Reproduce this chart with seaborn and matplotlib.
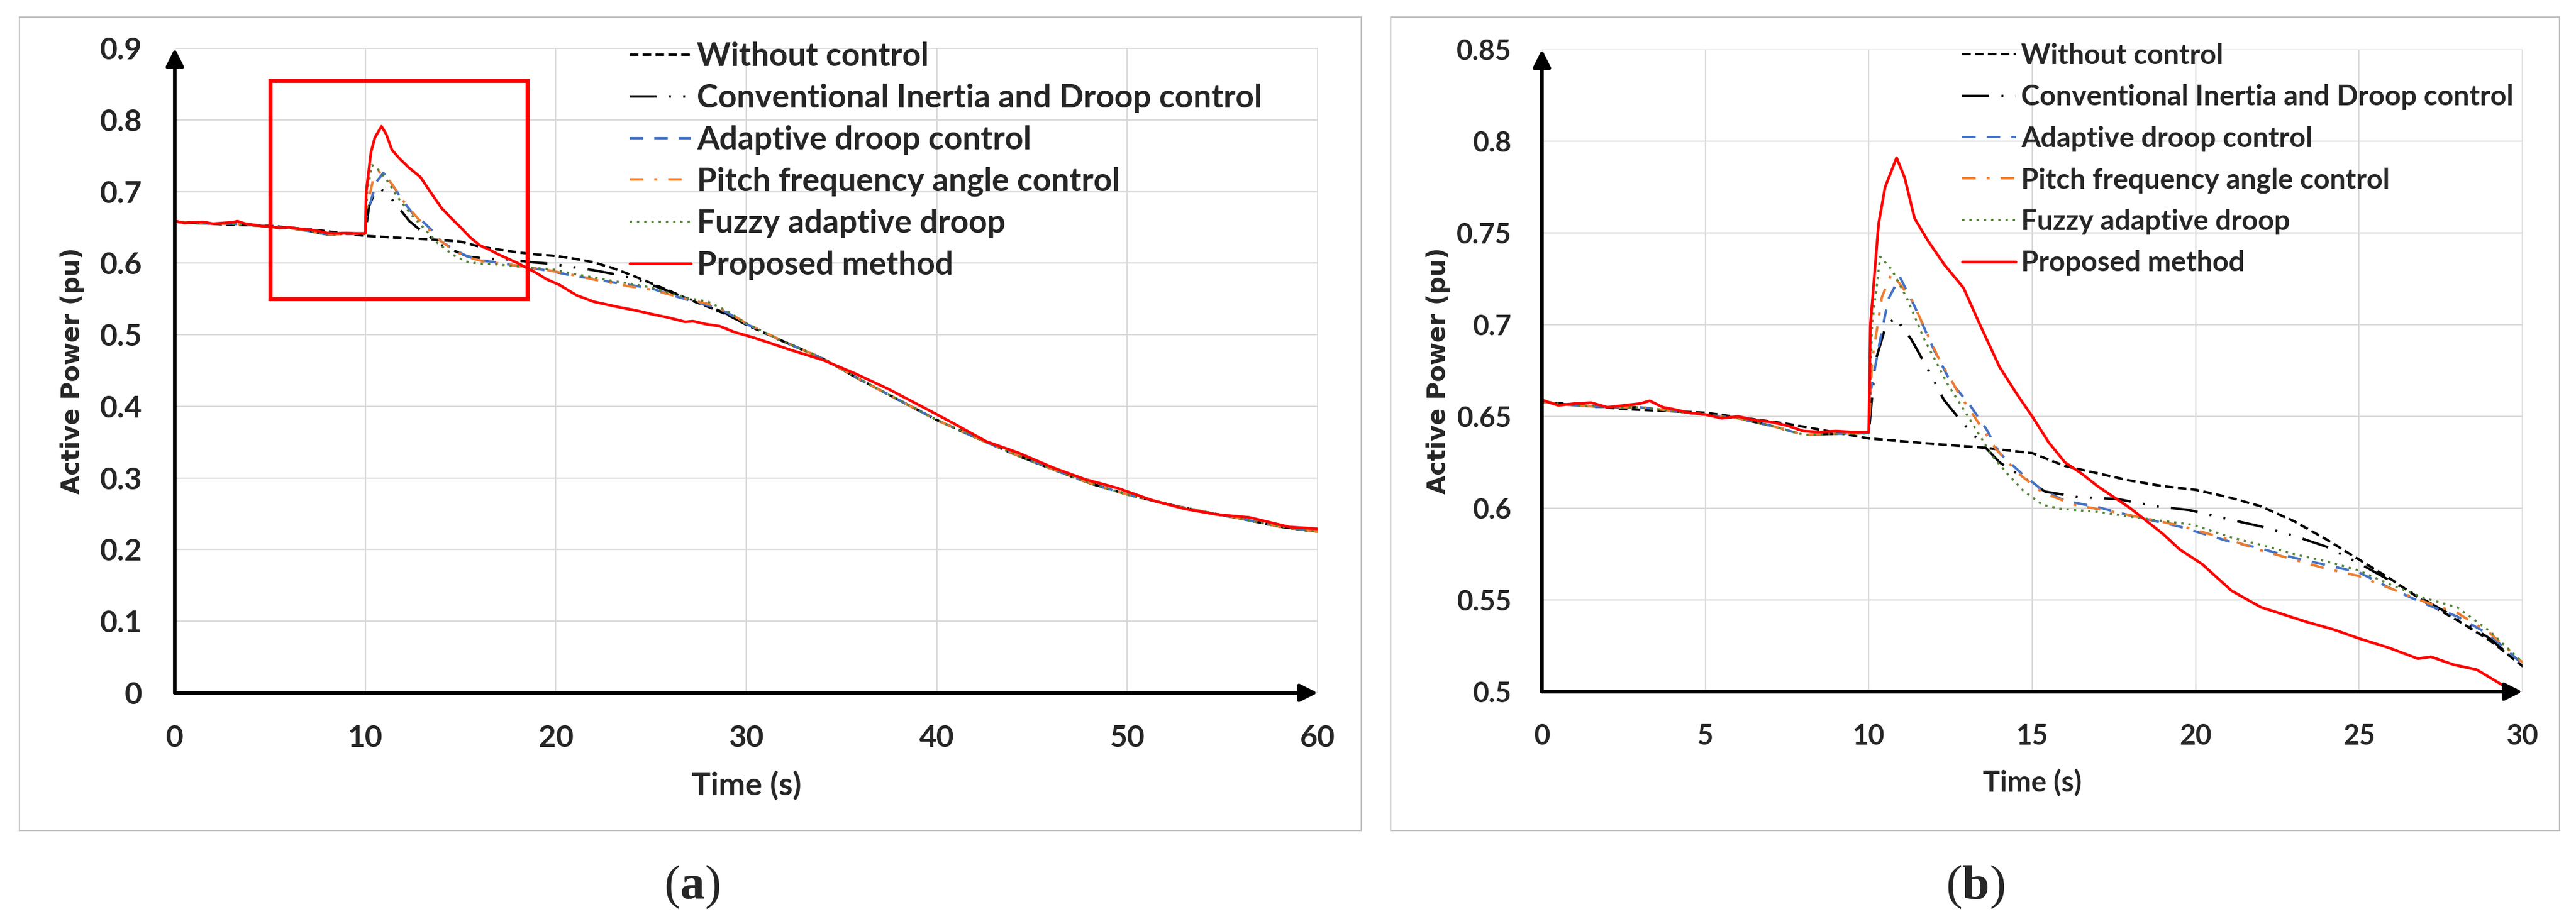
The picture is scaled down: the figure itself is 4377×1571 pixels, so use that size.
import matplotlib
matplotlib.use("Agg")
import matplotlib.pyplot as plt
from matplotlib.patches import Rectangle
from matplotlib.ticker import FuncFormatter, MultipleLocator
import pandas as pd
import seaborn as sns

# ---- data (time in s, active power in pu) ----
labels = ["Without control", "Conventional Inertia and Droop control",
          "Adaptive droop control", "Pitch frequency angle control",
          "Fuzzy adaptive droop", "Proposed method"]

# shared pre-disturbance part of the controlled curves
t_pre = [0, 1, 2, 3, 4, 5, 6, 7, 8, 9, 10]
p_pre = [0.658, 0.656, 0.655, 0.655, 0.653, 0.651, 0.649, 0.645, 0.640, 0.6405, 0.641]

# shared tail (all non-proposed curves overlap after 30 s)
t_tail = [32, 34, 36, 38, 40, 42, 44, 46, 48, 50, 52, 54, 56, 58, 60]
p_tail = [0.490, 0.467, 0.437, 0.409, 0.381, 0.357, 0.334, 0.313, 0.293, 0.277,
          0.264, 0.253, 0.243, 0.232, 0.225]

t_wo = [0, 2.5, 5, 7.5, 10, 12, 13.5, 15, 16, 17, 18, 19, 20, 21, 22, 23, 24, 25,
        26, 27, 28, 29, 30]
p_wo = [0.658, 0.654, 0.652, 0.646, 0.638, 0.635, 0.633, 0.630, 0.623, 0.619,
        0.615, 0.612, 0.610, 0.606, 0.601, 0.593, 0.583, 0.572, 0.561, 0.549,
        0.539, 0.528, 0.514]

t_conv = [10.2, 10.5, 10.8, 11.3, 11.8, 12.3, 12.8, 13.2, 14, 14.7, 15.4, 16.4,
          17.6, 18.8, 19.8, 21, 22, 23, 24, 25, 26, 27, 28, 29, 30]
p_conv = [0.680, 0.698, 0.704, 0.692, 0.676, 0.659, 0.648, 0.640, 0.625, 0.617,
          0.609, 0.606, 0.605, 0.601, 0.599, 0.594, 0.590, 0.585, 0.579, 0.570,
          0.560, 0.550, 0.540, 0.529, 0.514]

t_adap = [10.05, 10.35, 10.6, 10.95, 11.4, 12, 12.5, 13.1, 13.6, 14, 14.7, 15.3,
          16, 17, 18, 19.5, 21, 22, 23, 24, 25, 26, 27, 28, 29, 30]
p_adap = [0.663, 0.692, 0.714, 0.726, 0.710, 0.686, 0.669, 0.656, 0.643, 0.630,
          0.6185, 0.610, 0.604, 0.6006, 0.596, 0.590, 0.582, 0.578, 0.573, 0.569,
          0.565, 0.556, 0.548, 0.541, 0.531, 0.515]

t_pitch = [10.1, 10.4, 10.7, 11.3, 12.1, 12.75, 13.3, 13.9, 14.6, 15.3, 16.25,
           17.6, 19.5, 21, 22, 23, 24, 25, 26, 27, 28, 29, 30]
p_pitch = [0.680, 0.715, 0.728, 0.714, 0.683, 0.6626, 0.648, 0.632, 0.6186,
           0.6087, 0.602, 0.5976, 0.5906, 0.583, 0.577, 0.572, 0.567, 0.563,
           0.556, 0.549, 0.543, 0.532, 0.516]

t_fuzzy = [10.1, 10.35, 10.7, 11.15, 11.7, 12.4, 13.0, 13.45, 13.8, 14.25, 14.7,
           15.3, 15.85, 17, 18.15, 19.9, 21.1, 22, 23, 24, 25, 26, 27, 28, 29, 30]
p_fuzzy = [0.700, 0.737, 0.730, 0.715, 0.692, 0.668, 0.651, 0.638, 0.628, 0.6186,
           0.610, 0.602, 0.5997, 0.598, 0.595, 0.591, 0.584, 0.580, 0.575, 0.571,
           0.566, 0.558, 0.551, 0.546, 0.533, 0.516]

t_prop = [0, 0.5, 1, 1.5, 2, 2.5, 3, 3.3, 3.7, 4, 4.5, 5, 5.5, 6, 6.5, 7, 7.5, 8,
          8.5, 9, 9.5, 10, 10.05, 10.3, 10.5, 10.85, 11.1, 11.4, 11.8, 12.3, 12.9,
          13.4, 14, 14.5, 15, 15.5, 16, 16.5, 17, 17.5, 18, 18.5, 19, 19.5, 20.2,
          21.1, 22, 23.4, 24.2, 25, 25.9, 26.8, 27.2, 27.9, 28.6, 29.4, 30, 30.5,
          32.3, 34, 35.7, 37.4, 39.2, 40.9, 42.6, 44.3, 46.1, 47.8, 49.5, 51.3,
          53, 54.7, 56.4, 58.5, 60]
p_prop = [0.659, 0.656, 0.657, 0.6575, 0.655, 0.656, 0.657, 0.6585, 0.655, 0.654,
          0.652, 0.651, 0.649, 0.650, 0.648, 0.647, 0.645, 0.642, 0.6415, 0.642,
          0.6415, 0.6415, 0.700, 0.755, 0.775, 0.791, 0.780, 0.758, 0.746, 0.733,
          0.720, 0.700, 0.677, 0.663, 0.650, 0.636, 0.625, 0.619, 0.612, 0.606,
          0.600, 0.593, 0.586, 0.5777, 0.5695, 0.555, 0.546, 0.538, 0.534, 0.529,
          0.524, 0.518, 0.519, 0.5147, 0.512, 0.5035, 0.499, 0.495, 0.479, 0.465,
          0.446, 0.425, 0.400, 0.376, 0.351, 0.335, 0.3145, 0.298, 0.2858, 0.269,
          0.257, 0.249, 0.245, 0.2316, 0.229]

series = {
    labels[0]: (t_wo + t_tail, p_wo + p_tail),
    labels[1]: (t_pre + t_conv + t_tail, p_pre + p_conv + p_tail),
    labels[2]: (t_pre + t_adap + t_tail, p_pre + p_adap + p_tail),
    labels[3]: (t_pre + t_pitch + t_tail, p_pre + p_pitch + p_tail),
    labels[4]: (t_pre + t_fuzzy + t_tail, p_pre + p_fuzzy + p_tail),
    labels[5]: (t_prop, p_prop),
}

styles = {
    labels[0]: dict(color="black", lw=3.0, ls=(0, (3.5, 1.75))),
    labels[1]: dict(color="black", lw=3.0, ls=(0, (11, 5, 0.8, 5, 0.8, 5))),
    labels[2]: dict(color="#4472C4", lw=3.0, ls=(0, (5.5, 4.5))),
    labels[3]: dict(color="#ED7D31", lw=3.0, ls=(0, (5.5, 4.5, 1.2, 4.5))),
    labels[4]: dict(color="#548235", lw=2.6, ls=(0, (1.1, 2.3))),
    labels[5]: dict(color="#FF0000", lw=3.3, ls="-"),
}

sns.set_theme(style="white")
plt.rcParams["font.family"] = ["Lato", "DejaVu Sans"]
plt.rcParams["font.weight"] = "bold"
plt.rcParams["mathtext.fontset"] = "custom"
plt.rcParams["mathtext.rm"] = "Liberation Serif"
plt.rcParams["mathtext.bf"] = "Liberation Serif:bold"

W, H = 4377, 1571
fig = plt.figure(figsize=(W / 100, H / 100), dpi=100)
fig.patch.set_facecolor("white")


def px_axes(x0, x1, y0, y1):
    return fig.add_axes([x0 / W, 1 - y1 / H, (x1 - x0) / W, (y1 - y0) / H])


def draw_panel(ax, xmax, xstep, ymin, ymax, ystep, ypad, leg_x, hlen, lab_x,
               tick_fs, xlab_fs, leg_fs, leg_sp):
    for name, (t, p) in series.items():
        st = styles[name]
        df = pd.DataFrame({"t": t, "p": p})
        sns.lineplot(data=df, x="t", y="p", ax=ax, color=st["color"],
                     linewidth=st["lw"], linestyle=st["ls"], label=name,
                     sort=False, estimator=None)
    ax.set_xlim(0, xmax)
    ax.set_ylim(ymin, ymax)
    ax.xaxis.set_major_locator(MultipleLocator(xstep))
    ax.yaxis.set_major_locator(MultipleLocator(ystep))
    ax.yaxis.set_major_formatter(FuncFormatter(lambda v, _: f"{v:g}"))
    ax.grid(True, color="#d9d9d9", lw=1.6)
    ax.set_axisbelow(True)
    for s in ax.spines.values():
        s.set_visible(False)
    ax.tick_params(axis="both", length=0, labelsize=tick_fs)
    ax.tick_params(axis="x", pad=39)
    ax.tick_params(axis="y", pad=ypad)
    for lbl in ax.get_xticklabels() + ax.get_yticklabels():
        lbl.set_fontweight("bold")
    # axis arrows
    arrow = dict(arrowstyle="-|>,head_length=0.6,head_width=0.3", lw=4.5,
                 color="black", shrinkA=0, shrinkB=0, mutation_scale=30)
    ax.annotate("", xy=(0, 1), xytext=(0, 0), xycoords="axes fraction",
                arrowprops=arrow, annotation_clip=False)
    ax.annotate("", xy=(1, 0), xytext=(0, 0), xycoords="axes fraction",
                arrowprops=arrow, annotation_clip=False)
    ax.set_xlabel("Time (s)", fontsize=xlab_fs, fontweight="bold")
    ax.xaxis.set_label_coords(0.5, -0.12)
    ax.set_ylabel("Active Power (pu)", fontsize=30, fontweight="bold",
                  family="DejaVu Sans")
    ax.yaxis.set_label_coords(lab_x, 0.5)
    ax.legend(loc="upper left", bbox_to_anchor=(leg_x, 1.01), frameon=False,
              handlelength=hlen, handletextpad=0.18,
              labelspacing=leg_sp, borderpad=0, borderaxespad=0,
              prop=dict(family="Lato", weight="bold", size=leg_fs))


ax_a = px_axes(297, 2239, 82, 1178)
draw_panel(ax_a, 60, 10, 0, 0.9, 0.1, 40, 0.398, 1.9, -0.0788,
           37, 39, 39.5, 0.38)
ax_a.add_patch(Rectangle((5, 0.55), 13.5, 0.305, fill=False, ec="#FF0000",
                         lw=5, zorder=5))

ax_b = px_axes(2620, 4286, 84, 1176)
draw_panel(ax_b, 30, 5, 0.5, 0.85, 0.05, 37, 0.4287, 1.9, -0.0929,
           34, 35, 34.5, 0.55)

# panel frames
for x0, x1 in [(33, 2313), (2363, 4349)]:
    fig.add_artist(Rectangle((x0 / W, 1 - 1412 / H), (x1 - x0) / W, (1412 - 29) / H,
                             transform=fig.transFigure, fill=False,
                             ec="#bfbfbf", lw=1.6))

# captions
fig.text(1176 / W, 1 - 1508 / H, r"($\mathbf{a}$)", ha="center", va="center",
         fontsize=60, family="Liberation Serif", fontweight="normal")
fig.text(3356 / W, 1 - 1508 / H, r"($\mathbf{b}$)", ha="center", va="center",
         fontsize=60, family="Liberation Serif", fontweight="normal")

fig.savefig("out.png", dpi=100, facecolor="white")
